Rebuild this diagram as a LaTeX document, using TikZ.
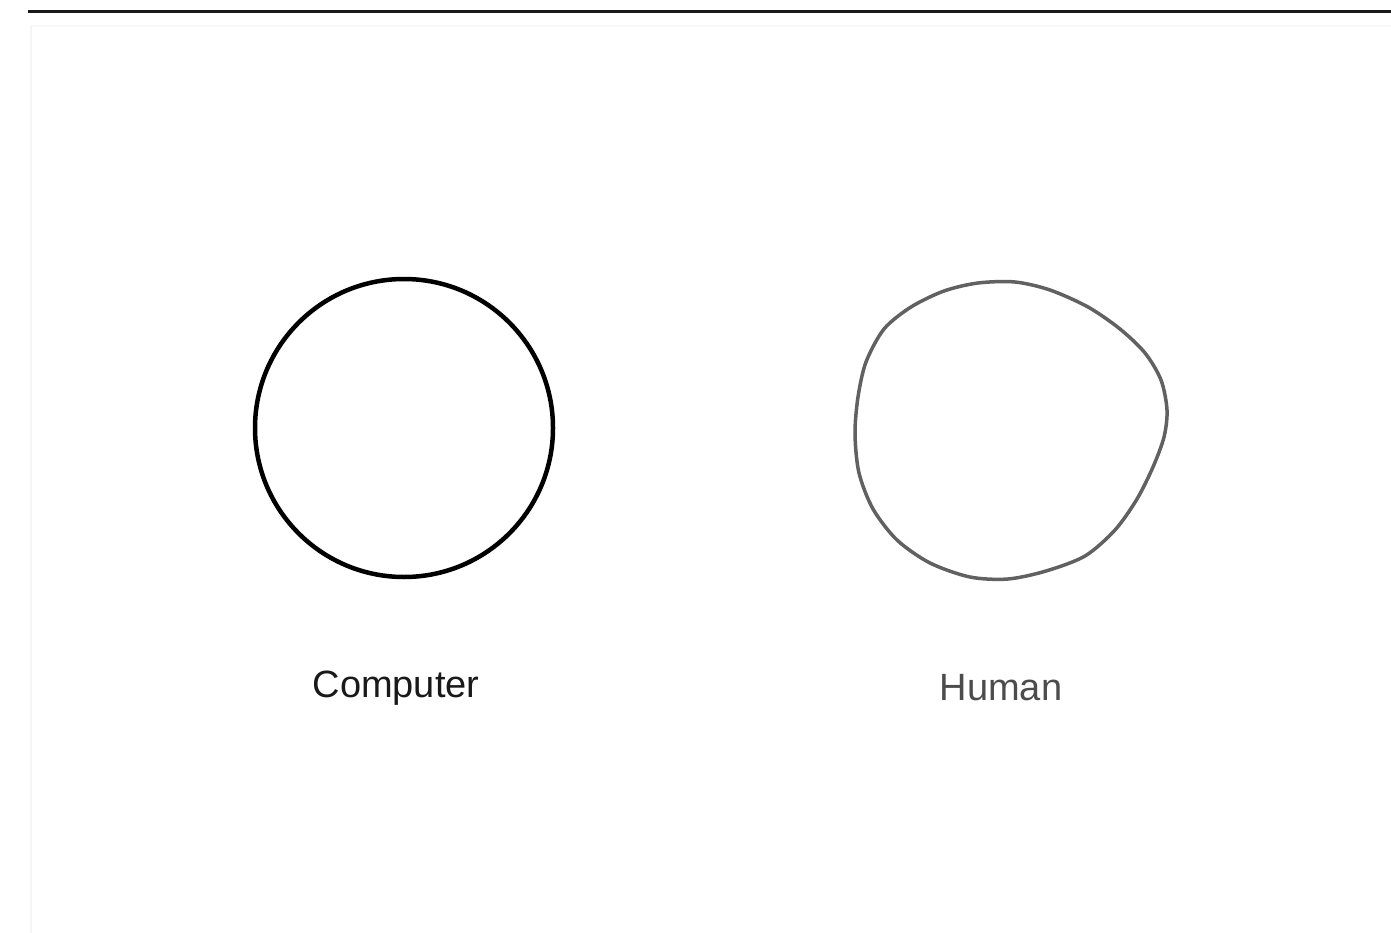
\documentclass[tikz,border=0pt]{standalone}
\usepackage{fontspec}
\setmainfont{Liberation Sans}
\usetikzlibrary{positioning}

\begin{document}
\begin{tikzpicture}[x=1pt,y=-1pt,
  label text/.style={font=\fontsize{38}{44}\selectfont, inner sep=0pt}]

\useasboundingbox (0,0) rectangle (1391,933);

% Top rule and faint frame
\draw[line width=3pt, black!90] (28,12) -- (1391,12);
\draw[line width=2pt, black!4] (31,26) -- (31,933);
\draw[line width=2pt, black!3] (31,26) -- (1391,26);

% Computer circle
\node[circle, draw, line width=4.5pt, minimum size=298pt, inner sep=0pt] (computer) at (404,428) {};

% Human circle, hand drawn
\draw[line width=3.5pt, black!62, line join=round]
  plot[smooth cycle, tension=0.5] coordinates {
    (978,283) (1015,282) (1050,290) (1088,307) (1120,329) (1145,353)
    (1161,380) (1167,410) (1164,437) (1153,467) (1137,499) (1115,530)
    (1085,556) (1046,571) (1008,579) (970,577) (930,563) (897,540)
    (873,509) (859,473) (855,434) (858,397) (866,362) (884,329)
    (911,307) (944,291)};
\coordinate (human) at (1010,430);

% Labels
\node[label text, text=black!90] (computer label) at (396,688) {Computer};
\node[label text, text=black!70] (human label) at (1001,688) {Human};

\end{tikzpicture}
\end{document}
